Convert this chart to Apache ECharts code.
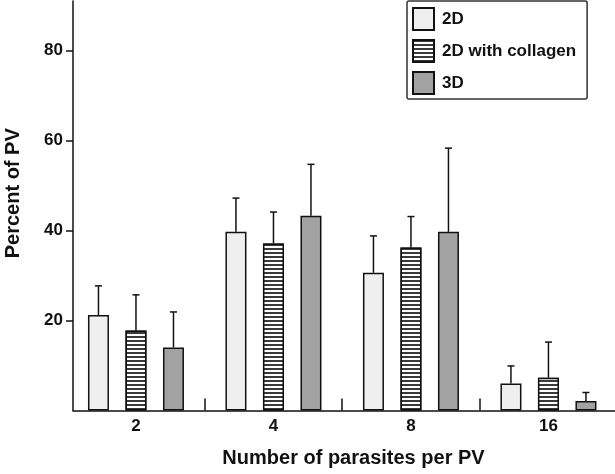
<!DOCTYPE html>
<html>
<head>
<meta charset="utf-8">
<script src="https://cdn.jsdelivr.net/npm/echarts@6/dist/echarts.min.js"></script>
<style>
html,body{margin:0;padding:0;background:#fff;}
#chart{width:615px;height:474px;}
</style>
</head>
<body>
<div id="chart"></div>
<script>
// ---- data ----
const categories = ['2', '4', '8', '16'];
const seriesNames = ['2D', '2D with collagen', '3D'];
const values2D = [21.2, 39.7, 30.6, 6.0];
const valuesCollagen = [17.8, 37.1, 36.2, 7.3];
const values3D = [14.0, 43.3, 39.7, 2.1];
const err2D = [6.5, 7.5, 8.2, 3.9];
const errCollagen = [7.9, 7.0, 6.9, 7.9];
const err3D = [7.9, 11.4, 18.6, 1.9];
const yTicks = [20, 40, 60, 80];

// ---- styling ----
const BAR_W = 21;
const BAR_GAP = 0.786;
const FONT = '"Liberation Sans", Arial, sans-serif';

const allValues = [values2D, valuesCollagen, values3D];
const allErr = [err2D, errCollagen, err3D];

const fills = [
  { color: '#efefef' },
  { color: '#ffffff', decal: { symbol: 'rect', symbolSize: 1, dashArrayX: [1, 0], dashArrayY: [2, 2], rotation: 0, color: '#3a3a3a', backgroundColor: '#ffffff' } },
  { color: '#a2a2a2' }
];

const barSeries = seriesNames.map((name, s) => ({
  name: name,
  type: 'bar',
  barWidth: BAR_W,
  barGap: (BAR_GAP * 100) + '%',
  data: allValues[s].map((v, i) => [i, v]),
  itemStyle: Object.assign({ borderColor: '#111', borderWidth: 1.5 }, fills[s]),
  emphasis: { disabled: true },
  silent: true
}));

const errData = [];
allValues.forEach((vals, s) => {
  vals.forEach((v, i) => errData.push([i, s, v, allErr[s][i]]));
});

const errSeries = {
  type: 'custom',
  silent: true,
  data: errData,
  encode: { x: 0, y: 2 },
  z: 5,
  renderItem: function (params, api) {
    const off = (api.value(1) - 1) * BAR_W * (1 + BAR_GAP);
    const p = api.coord([api.value(0), api.value(2)]);
    const q = api.coord([api.value(0), api.value(2) + api.value(3)]);
    const x = p[0] + off;
    const style = { stroke: '#111', lineWidth: 1.5, fill: null };
    return {
      type: 'group',
      children: [
        { type: 'line', shape: { x1: x, y1: p[1], x2: x, y2: q[1] }, style: style },
        { type: 'line', shape: { x1: x - 3.5, y1: q[1], x2: x + 3.5, y2: q[1] }, style: style }
      ]
    };
  }
};

const chart = echarts.init(document.getElementById('chart'), null, { renderer: 'canvas' });
chart.setOption({
  animation: false,
  backgroundColor: '#ffffff',
  textStyle: { fontFamily: FONT },
  grid: { left: 73, right: 0, top: 1, bottom: 63.5, containLabel: false, outerBoundsMode: 'none' },
  legend: {
    data: seriesNames,
    orient: 'vertical',
    left: 407,
    top: 1,
    icon: 'rect',
    itemWidth: 21,
    itemHeight: 22,
    itemGap: 8,
    padding: [6, 11, 4, 5],
    borderColor: '#333',
    borderWidth: 1.5,
    borderRadius: 2,
    backgroundColor: '#fff',
    selectedMode: false,
    textStyle: { fontSize: 17, fontWeight: 'bold', color: '#111', fontFamily: FONT, padding: [0, 0, 0, 3] }
  },
  xAxis: {
    type: 'value',
    min: -0.458,
    max: 3.484,
    name: 'Number of parasites per PV',
    nameLocation: 'middle',
    nameGap: 38,
    nameTextStyle: { fontSize: 20, fontWeight: 'bold', color: '#111', fontFamily: FONT, padding: [0, 0, 0, 19] },
    splitLine: { show: false },
    axisLine: { show: true, onZero: false, lineStyle: { color: '#111', width: 1.5 } },
    axisTick: { show: true, inside: true, length: 12, customValues: [0.5, 1.5, 2.5], lineStyle: { color: '#111', width: 1.5 } },
    axisLabel: {
      customValues: [0, 1, 2, 3],
      formatter: function (v) { return categories[Math.round(v)]; },
      fontSize: 17, fontWeight: 'bold', color: '#111', margin: 7, fontFamily: FONT
    }
  },
  yAxis: {
    type: 'value',
    min: 0,
    max: 91,
    interval: 20,
    name: 'Percent of PV',
    nameLocation: 'middle',
    nameGap: 50,
    nameTextStyle: { fontSize: 20, fontWeight: 'bold', color: '#111', fontFamily: FONT, padding: [0, 0, 0, 25] },
    splitLine: { show: false },
    axisLine: { show: true, onZero: false, lineStyle: { color: '#111', width: 1.5 } },
    axisTick: { show: true, length: 7, customValues: yTicks, lineStyle: { color: '#111', width: 1.5 } },
    axisLabel: {
      customValues: yTicks,
      fontSize: 17, fontWeight: 'bold', color: '#111', margin: 10, fontFamily: FONT
    }
  },
  series: barSeries.concat([errSeries])
});
</script>
</body>
</html>
